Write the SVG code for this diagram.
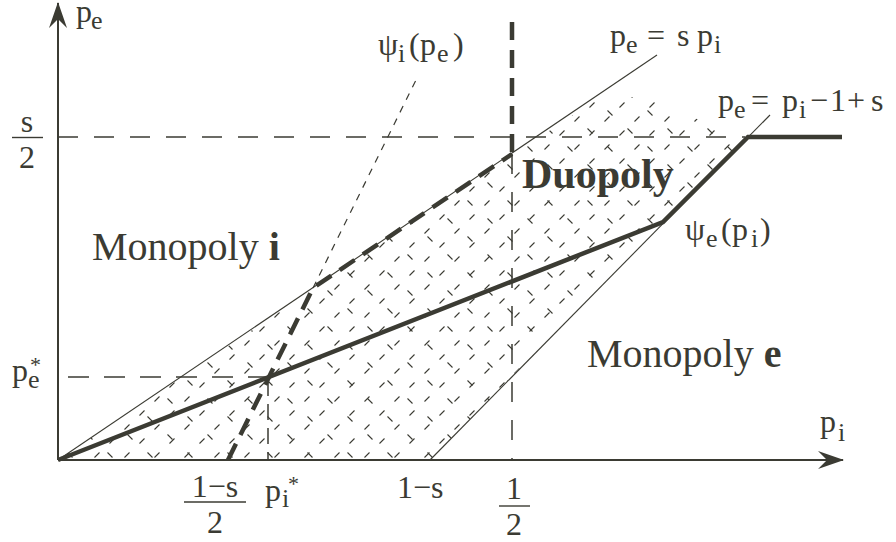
<svg xmlns="http://www.w3.org/2000/svg" width="896" height="542" viewBox="0 0 896 542">
<style>
text{font-family:"Liberation Serif","Times New Roman",serif;font-size:32px;fill:#3b3b33}
.sub{font-size:26px}
.big{font-size:40px}
.duo{font-size:42px}
.b{font-weight:bold}
.ln{fill:none;stroke:#3b3b33;stroke-linecap:butt;stroke-linejoin:miter}
.thin{stroke-width:1.1}
.ax{stroke-width:2}
.dash{stroke-width:1.5;stroke-dasharray:20 16}
.thick{stroke-width:4.5}
.tdash{stroke-width:4.5;stroke-dasharray:18 10}
.dot{stroke-width:1.2;stroke-dasharray:7 7}
.bar{stroke:#3b3b33;stroke-width:1.4}
.hm{stroke:#3b3b33;stroke-width:1.1;fill:none}
</style>
<defs>
<pattern id="hatchA" patternUnits="userSpaceOnUse" width="30" height="28">
<path class="hm" d="M4.5,9.5 L9.5,4.5 M19.5,23.5 L24.5,18.5"/>
</pattern>
<pattern id="hatchB" patternUnits="userSpaceOnUse" width="40" height="36">
<path class="hm" d="M7.5,2.5 L12.5,7.5 M27.5,20.5 L32.5,25.5"/>
</pattern>
<clipPath id="duoClip">
<polygon points="58,460 600,97 652,97 742,141 430,460"/>
</clipPath>
<marker id="arr" viewBox="0 0 26 20" refX="25" refY="10" markerWidth="26" markerHeight="20" markerUnits="userSpaceOnUse" orient="auto">
<path d="M0,1 L26,10 L0,19 L9,10 Z" fill="#3b3b33"/>
</marker>
</defs>
<g id="hatch" clip-path="url(#duoClip)">
<rect x="0" y="0" width="896" height="542" fill="url(#hatchA)"/>
<rect x="0" y="0" width="896" height="542" fill="url(#hatchB)"/>
</g>
<g id="connectors">
<line class="ln dash" x1="58" y1="137" x2="745" y2="137"/>
<line class="ln dash" x1="68" y1="377" x2="268" y2="377" style="stroke-dasharray:21 15"/>
<line class="ln dash" x1="268" y1="380" x2="268" y2="460" style="stroke-dasharray:16 8"/>
<line class="ln dash" x1="512" y1="154" x2="512" y2="460" style="stroke-dasharray:20 18"/>
<line class="ln thin" x1="58" y1="460" x2="657" y2="55"/>
<line class="ln thin" x1="430" y1="460" x2="770" y2="115"/>
<line class="ln dot" x1="313" y1="288" x2="417" y2="78"/>
<polyline class="ln tdash" points="228,460 313,288 512,154"/>
<line class="ln tdash" x1="512" y1="152" x2="512" y2="22"/>
<polyline class="ln thick" points="58,460 663,222 748,137 842,137"/>
<line class="ln ax" x1="58" y1="460" x2="58" y2="3" marker-end="url(#arr)"/>
<line class="ln ax" x1="58" y1="460" x2="843" y2="460" marker-end="url(#arr)"/>
</g>
<g id="labels">
<g id="label-pe-axis"><text x="76" y="22">p</text><text class="sub" x="91" y="29">e</text></g>
<g id="label-s2"><text x="27" y="132" text-anchor="middle">s</text><line class="bar" x1="12" y1="137.5" x2="43" y2="137.5"/><text x="27" y="168" text-anchor="middle">2</text></g>
<g id="label-psi-i"><text x="378" y="55">ψ</text><text class="sub" x="398" y="62">i</text><text x="409" y="55">(</text><text x="420" y="55">p</text><text class="sub" x="437" y="62">e</text><text x="453" y="55">)</text></g>
<g id="label-spi"><text x="610" y="46">p</text><text class="sub" x="626" y="53">e</text><text x="647" y="46">=</text><text x="677" y="46">s</text><text x="697" y="46">p</text><text class="sub" x="714" y="53">i</text></g>
<g id="label-pi1s"><text x="718" y="111">p</text><text class="sub" x="734" y="118">e</text><text x="751" y="111">=</text><text x="782" y="111">p</text><text class="sub" x="799" y="118">i</text><text x="810" y="111">−</text><text x="830" y="111">1</text><text x="847" y="111">+</text><text x="871" y="111">s</text></g>
<g id="label-duopoly"><text class="duo b" x="522" y="188">Duopoly</text></g>
<g id="label-monoi"><text class="big" x="92" y="260">Monopoly <tspan class="b">i</tspan></text></g>
<g id="label-psi-e"><text x="685" y="240">ψ</text><text class="sub" x="706" y="247">e</text><text x="721" y="240">(</text><text x="732" y="240">p</text><text class="sub" x="751" y="247">i</text><text x="760" y="240">)</text></g>
<g id="label-monoe"><text class="big" x="587" y="367">Monopoly <tspan class="b">e</tspan></text></g>
<g id="label-pi-axis"><text x="820" y="432">p</text><text class="sub" x="838" y="441">i</text></g>
<g id="label-pestar"><text x="12" y="381">p</text><text class="sub" x="28" y="388">e</text><text x="30" y="372" style="font-size:22px">*</text></g>
<g id="label-1s2"><text x="215" y="497" text-anchor="middle">1−s</text><line class="bar" x1="184" y1="502" x2="246" y2="502"/><text x="215" y="533" text-anchor="middle">2</text></g>
<g id="label-pistar"><text x="265" y="501">p</text><text class="sub" x="282" y="507">i</text><text x="288" y="491" style="font-size:22px">*</text></g>
<g id="label-1s"><text x="397" y="498">1−s</text></g>
<g id="label-half"><text x="514" y="499" text-anchor="middle">1</text><line class="bar" x1="499" y1="506" x2="530" y2="506"/><text x="514" y="535" text-anchor="middle">2</text></g>
</g>
</svg>
